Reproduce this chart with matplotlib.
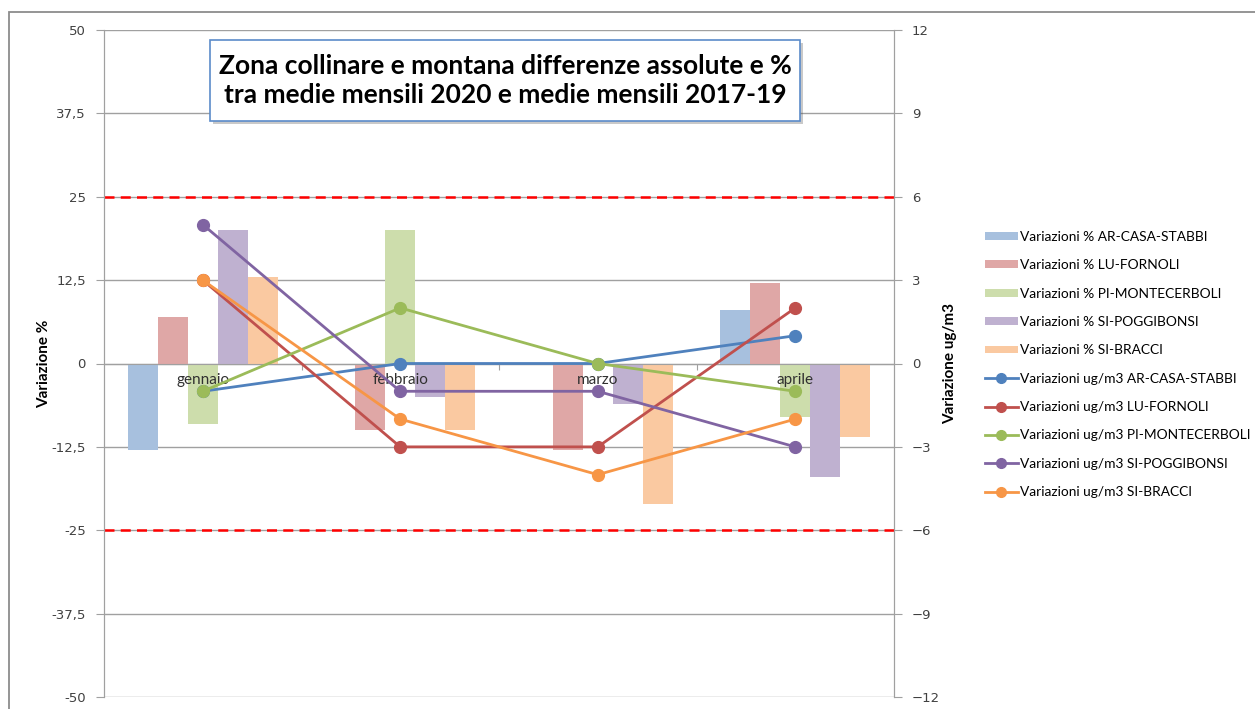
import matplotlib
matplotlib.use("Agg")
import matplotlib.pyplot as plt
import matplotlib.patheffects as pe
from matplotlib.patches import Rectangle, Patch
from matplotlib.lines import Line2D
import numpy as np

# data
mesi = ["gennaio", "febbraio", "marzo", "aprile"]
stazioni = ["AR-CASA-STABBI", "LU-FORNOLI", "PI-MONTECERBOLI", "SI-POGGIBONSI", "SI-BRACCI"]

# variazioni % (asse sx, barre)
perc_ar = [-13, 0, 0, 8]
perc_lu = [7, -10, -13, 12]
perc_pi = [-9, 20, 0, -8]
perc_pog = [20, -5, -6, -17]
perc_bra = [13, -10, -21, -11]

# variazioni ug/m3 (asse dx, linee)
ug_ar = [-1, 0, 0, 1]
ug_lu = [3, -3, -3, 2]
ug_pi = [-1, 2, 0, -1]
ug_pog = [5, -1, -1, -3]
ug_bra = [3, -2, -4, -2]

perc = [perc_ar, perc_lu, perc_pi, perc_pog, perc_bra]
ug = [ug_ar, ug_lu, ug_pi, ug_pog, ug_bra]

col_line = ["#4F81BD", "#C0504D", "#9BBB59", "#8064A2", "#F79646"]
col_bar = ["#A7C0DE", "#DFA7A6", "#CDDDAC", "#BFB1D0", "#FAC9A1"]

W, H = 1255, 709
fig = plt.figure(figsize=(W / 100, H / 100), dpi=100)

# outer chart border
fig.add_artist(Rectangle((9 / W, -0.1), 1.2, 1 - 12 / H + 0.1, transform=fig.transFigure,
                         fill=False, ec="#8c8c8c", lw=1.3))

ax = fig.add_axes([104 / W, 1 - 697 / H, 790 / W, 667 / H])
ax2 = ax.twinx()

x = np.arange(len(mesi))
bw = 0.152
for i in range(5):
    ax.bar(x + (i - 2) * bw, perc[i], width=bw, color=col_bar[i], zorder=2)

for i in range(5):
    ax2.plot(x, ug[i], color=col_line[i], lw=2.0, marker="o", ms=8.5, zorder=3)

# month names just under the zero line, above the bars
for xi, m in zip(x, mesi):
    ax2.annotate(m, (xi, 0), xytext=(0, -7), textcoords="offset points",
                 ha="center", va="top", fontsize=11, family="Lato", color="#303030",
                 zorder=2.5)

gray = "#A0A0A0"
ax.set_xlim(-0.5, 3.5)
ax.set_ylim(-50, 50)
ax2.set_ylim(-12, 12)
yt = np.arange(-50, 50.1, 12.5)
ax.set_yticks(yt)
ax.set_yticklabels([("%g" % v).replace(".", ",") for v in yt])
ax2.set_yticks(np.arange(-12, 12.1, 3))
ax.grid(axis="y", color=gray, lw=1.0, zorder=0)
ax.set_axisbelow(True)

for v in (25, -25):
    ax.axhline(v, color="#FF0000", lw=1.8, ls=(0, (4, 2.5)), zorder=1)

# category axis at zero
ax.spines["bottom"].set_position(("data", 0))
ax.spines["top"].set_visible(False)
for a in (ax, ax2):
    for s in a.spines.values():
        s.set_color(gray)
ax2.spines["top"].set_visible(False)
ax2.spines["bottom"].set_visible(False)
ax.set_xticks([0.5, 1.5, 2.5])
ax.set_xticklabels([])
ax.tick_params(axis="x", which="major", length=4, color=gray, direction="out")

ax.tick_params(axis="y", length=6, color=gray, labelsize=9.5, labelcolor="#404040", pad=7)
ax2.tick_params(axis="y", length=6, color=gray, labelsize=9.5, labelcolor="#404040", pad=7)

ax.set_ylabel("Variazione %", family="Lato", fontweight="bold", fontsize=11, labelpad=0)
ax2.set_ylabel("Variazione ug/m3", family="Lato", fontweight="bold", fontsize=11, labelpad=2)

# title box
bx0, by0, bx1, by1 = 210, 40, 800, 121
fig.add_artist(Rectangle((bx0 / W, 1 - by1 / H), (bx1 - bx0) / W, (by1 - by0) / H,
                         transform=fig.transFigure, fc="white", ec="#5B8BC9", lw=1.2,
                         zorder=10,
                         path_effects=[pe.SimplePatchShadow(offset=(2.5, -2.5), alpha=0.3), pe.Normal()]))
fig.text((bx0 + bx1) / 2 / W, 1 - (by0 + by1) / 2 / H,
         "Zona collinare e montana differenze assolute e %\ntra medie mensili 2020 e medie mensili 2017-19",
         ha="center", va="center", family="Lato", fontweight="bold", fontsize=19,
         linespacing=1.25, zorder=11)

# legend
handles = [Patch(facecolor=col_bar[i], edgecolor="none") for i in range(5)]
handles += [Line2D([], [], color=col_line[i], lw=2.0, marker="o", ms=7) for i in range(5)]
labels = ["Variazioni % " + s for s in stazioni] + ["Variazioni ug/m3 " + s for s in stazioni]
fig.legend(handles, labels, loc="upper left", bbox_to_anchor=(978 / W, 1 - 224 / H),
           frameon=False, prop={"family": "Lato", "size": 9.9}, handlelength=2.4,
           handleheight=0.5, handletextpad=0.15, labelspacing=1.19, borderpad=0)

fig.savefig("out.png", dpi=100)
